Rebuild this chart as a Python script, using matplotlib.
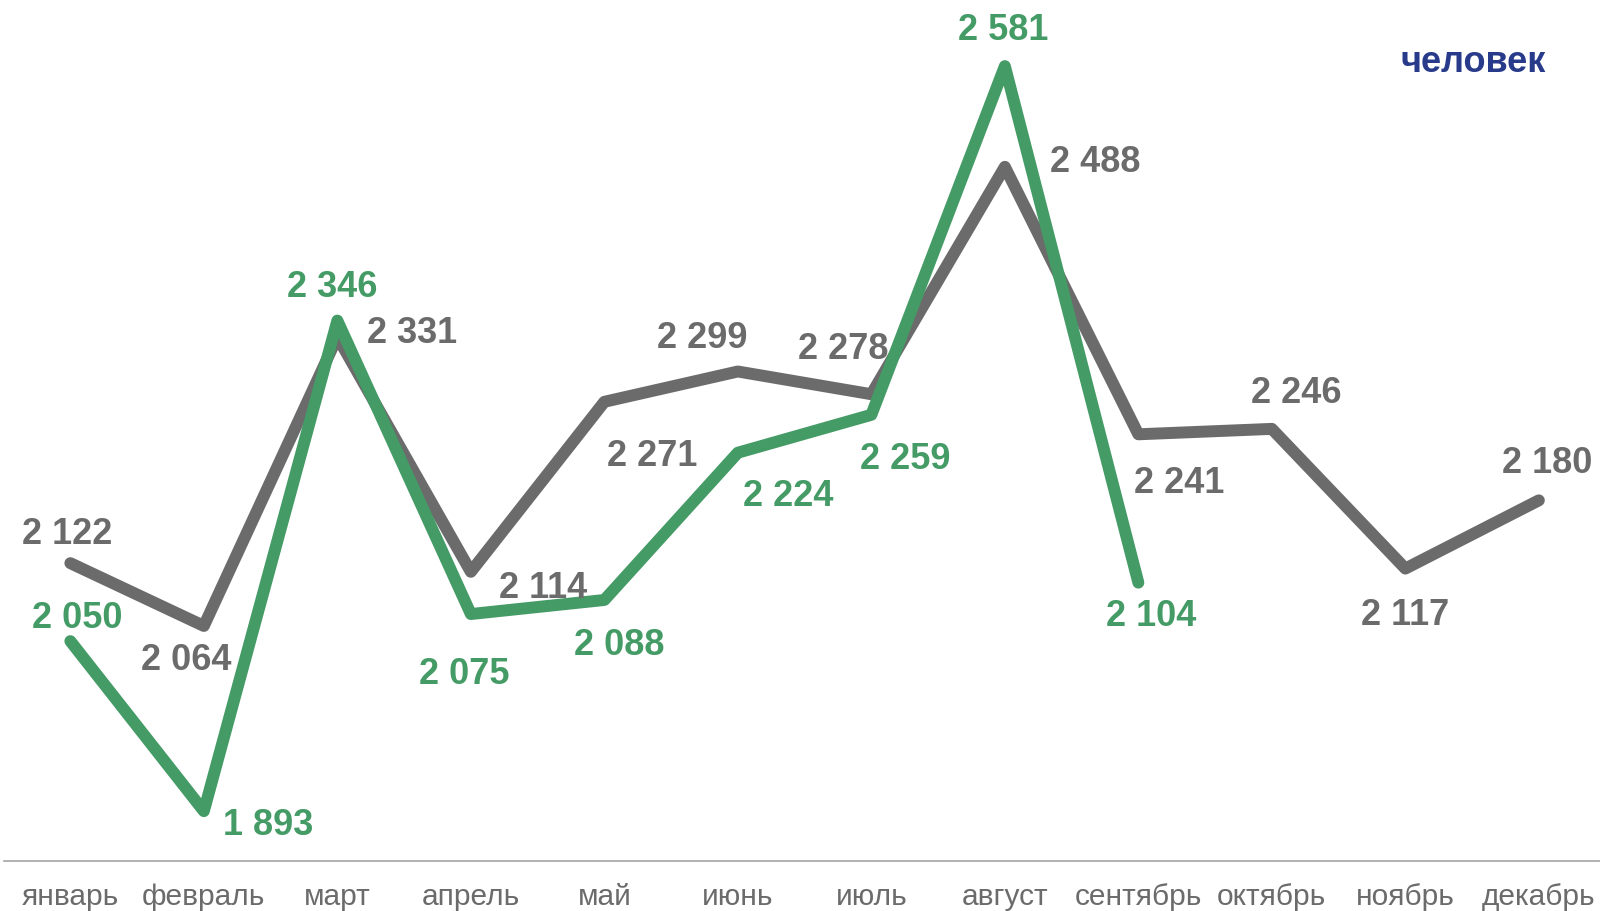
import matplotlib.pyplot as plt
from matplotlib import font_manager

# ---- data ----
months = ["январь", "февраль", "март", "апрель", "май", "июнь",
          "июль", "август", "сентябрь", "октябрь", "ноябрь", "декабрь"]
prev_year = [2122, 2064, 2331, 2114, 2271, 2299, 2278, 2488, 2241, 2246, 2117, 2180]
curr_year = [2050, 1893, 2346, 2075, 2088, 2224, 2259, 2581, 2104]
unit_label = "человек"

# label offsets in pixels (dx, dy) relative to each point
prev_offsets = [(-3, 30), (-18, -34), (75, 4), (72, -16), (48, -54), (-36, 34),
                (-28, 46), (90, 5), (41, -48), (24, 36), (0, -46), (8, 38)]
curr_offsets = [(7, 24), (64, -13), (-5, 34), (-7, -59), (15, -45), (50, -43),
                (34, -44), (-2, 37), (13, -33)]

GRAY = "#6b6b6b"
GREEN = "#449b66"
BLUE = "#283a8a"

names = {f.name for f in font_manager.fontManager.ttflist}
tick_font = "Liberation Sans Narrow" if "Liberation Sans Narrow" in names else "Liberation Sans"
plt.rcParams["font.family"] = ["Liberation Sans", "DejaVu Sans"]


def fmt(v):
    return f"{v:,}".replace(",", " ")


def main():
    fig = plt.figure(figsize=(16, 9.12), dpi=100)
    ax = fig.add_axes([0.0025, 0.0549, 0.9975, 0.9451])

    x_prev = list(range(len(prev_year)))
    x_curr = list(range(len(curr_year)))

    ax.plot(x_prev, prev_year, color=GRAY, lw=8.6,
            solid_capstyle="round", solid_joinstyle="round")
    ax.plot(x_curr, curr_year, color=GREEN, lw=8.6,
            solid_capstyle="round", solid_joinstyle="round")

    for xi, v, (dx, dy) in zip(x_prev, prev_year, prev_offsets):
        ax.annotate(fmt(v), (xi, v), xytext=(dx, dy), textcoords="offset pixels",
                    ha="center", va="center", color=GRAY, fontsize=26,
                    fontweight="bold")
    for xi, v, (dx, dy) in zip(x_curr, curr_year, curr_offsets):
        ax.annotate(fmt(v), (xi, v), xytext=(dx, dy), textcoords="offset pixels",
                    ha="center", va="center", color=GREEN, fontsize=26,
                    fontweight="bold")

    ax.set_xlim(-0.497, 11.458)
    ax.set_ylim(1847, 2643)

    for s in ["top", "right", "left"]:
        ax.spines[s].set_visible(False)
    ax.spines["bottom"].set_color("#a6a6a6")
    ax.spines["bottom"].set_linewidth(1.2)
    ax.set_yticks([])
    ax.set_xticks(range(len(months)))
    ax.set_xticklabels(months, family=tick_font, fontsize=21.5, color="#6b6b6b")
    ax.tick_params(axis="x", length=0, pad=15)

    fig.text(0.921, 0.932, unit_label, ha="center", va="center",
             color=BLUE, fontsize=26, fontweight="bold")

    fig.savefig("out.png", dpi=100)


if __name__ == "__main__":
    main()
